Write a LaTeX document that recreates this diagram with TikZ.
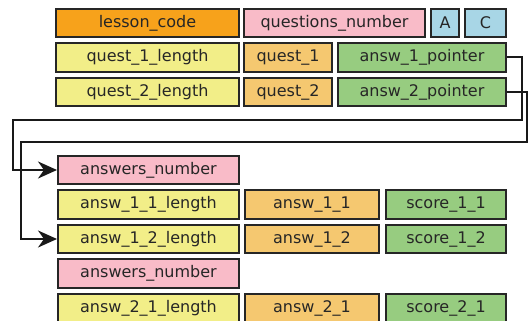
\documentclass[tikz,border=0pt]{standalone}
\usepackage{fontspec}
\setmainfont{DejaVu Sans}
\usepackage{tikz}
\usetikzlibrary{shapes, arrows, calc, positioning}
\usetikzlibrary{arrows.meta}

\definecolor{codeorange}{HTML}{F7A21B}
\definecolor{numpink}{HTML}{F9BBC8}
\definecolor{flagblue}{HTML}{A8D6E6}
\definecolor{lenyellow}{HTML}{F2EE88}
\definecolor{textorange}{HTML}{F5C870}
\definecolor{ptrgreen}{HTML}{97CC80}

\begin{document}
\begin{tikzpicture}[
  x=1pt, y=-1pt,
  every node/.style={font=\fontsize{16}{18}\selectfont, text=black!85},
  field/.style={rectangle, draw=black!85, line width=2pt, inner sep=0pt, minimum height=28.5pt},
  codefield/.style={field, fill=codeorange},
  numfield/.style={field, fill=numpink},
  flagfield/.style={field, fill=flagblue},
  lenfield/.style={field, fill=lenyellow},
  textfield/.style={field, fill=textorange},
  ptrfield/.style={field, fill=ptrgreen},
  link/.style={draw=black!90, line width=2pt, -{Stealth[length=19pt, width=17pt, inset=6pt]}}
]
\clip (0,0) rectangle (528,321);

% lesson header
\node[codefield, minimum width=183pt] (lessoncode) at (147.5,23) {lesson\_code};
\node[numfield, minimum width=181pt, right=3pt of lessoncode] (qnumber) {questions\_number};
\node[flagfield, minimum width=28pt, right=4pt of qnumber] (flaga) {A};
\node[flagfield, minimum width=41pt, right=4pt of flaga] (flagc) {C};

% questions
\node[lenfield, minimum width=183pt] (q1len) at (147.5,57.5) {quest\_1\_length};
\node[textfield, minimum width=88pt, right=3pt of q1len] (q1) {quest\_1};
\node[ptrfield, minimum width=168pt, right=4pt of q1] (ptr1) {answ\_1\_pointer};

\node[lenfield, minimum width=183pt] (q2len) at (147.5,92) {quest\_2\_length};
\node[textfield, minimum width=88pt, right=3pt of q2len] (q2) {quest\_2};
\node[ptrfield, minimum width=168pt, right=4pt of q2] (ptr2) {answ\_2\_pointer};

% answers
\node[numfield, minimum width=181pt] (anum1) at (148.5,170) {answers\_number};

\node[lenfield, minimum width=181pt] (a11len) at (148.5,204.5) {answ\_1\_1\_length};
\node[textfield, minimum width=134pt, right=4pt of a11len] (a11) {answ\_1\_1};
\node[ptrfield, minimum width=120pt, right=5pt of a11] (s11) {score\_1\_1};

\node[lenfield, minimum width=181pt] (a12len) at (148.5,239) {answ\_1\_2\_length};
\node[textfield, minimum width=134pt, right=4pt of a12len] (a12) {answ\_1\_2};
\node[ptrfield, minimum width=120pt, right=5pt of a12] (s12) {score\_1\_2};

\node[numfield, minimum width=181pt] (anum2) at (148.5,273.5) {answers\_number};

\node[lenfield, minimum width=181pt] (a21len) at (148.5,308.5) {answ\_2\_1\_length};
\node[textfield, minimum width=134pt, right=4pt of a21len] (a21) {answ\_2\_1};
\node[ptrfield, minimum width=120pt, right=5pt of a21] (s21) {score\_2\_1};

% pointers
\coordinate (r1) at (522,120.5);
\coordinate (l1) at (13,120.5);
\coordinate (r2) at (527,142);
\coordinate (l2) at (21,142);

\draw[link] (ptr1.east) -| (r1) -- (l1) |- (anum1.west);
\draw[link] (ptr2.east) -| (r2) -- (l2) |- (a12len.west);

\end{tikzpicture}
\end{document}
